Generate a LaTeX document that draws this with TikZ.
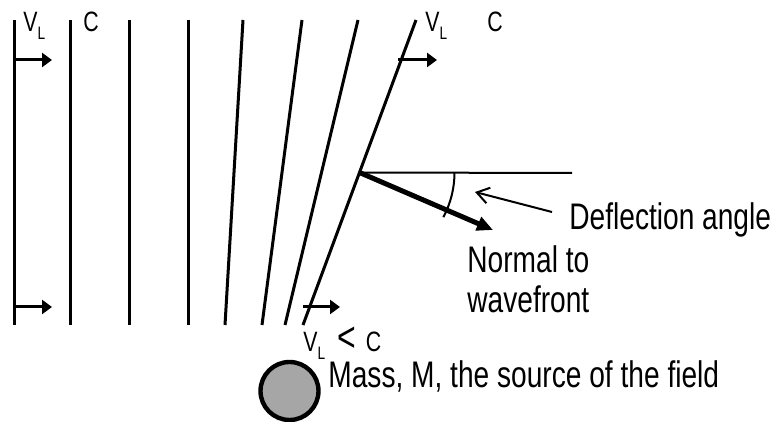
\documentclass[tikz,border=0pt]{standalone}
\usepackage{fontspec}
\setmainfont[FakeStretch=0.76]{Liberation Sans}
\usetikzlibrary{arrows.meta}
\usetikzlibrary{calc}
\usetikzlibrary{positioning}

\newcommand{\velL}{V\raisebox{-4pt}{\fontsize{9}{9}\selectfont L}}

\begin{document}
\begin{tikzpicture}[x=0.5pt, y=0.5pt,
    front/.style={line width=1.5pt},
    vel/.style={line width=1.5pt, -{Triangle[length=5pt, width=7pt]}},
    smalllabel/.style={inner sep=0pt, font=\fontsize{14}{16}\selectfont},
    bigtext/.style={inner sep=0pt, font=\fontsize{18.5}{20}\selectfont}]
    \useasboundingbox (0,0) rectangle (777,422);

    % Wavefronts, straight far from the mass and bent near it
    \foreach \i/\xt/\xb in {1/14/14, 2/70/70, 3/129/129, 4/188/188, 5/243/225, 6/302/262, 7/358/285, 8/416/303} {
        \coordinate (top\i) at (\xt,402);
        \coordinate (bot\i) at (\xb,97);
        \draw[front] (top\i) -- (bot\i);
    }

    % Velocity arrows
    \coordinate (vtl) at (14,362);
    \coordinate (vbl) at (14,115);
    \coordinate (vtr) at (398,362);
    \coordinate (vbr) at (303,115);
    \draw[vel] (vtl) -- ++(38,0);
    \draw[vel] (vbl) -- ++(38,0);
    \draw[vel] (vtr) -- ++(39,0);
    \draw[vel] (vbr) -- ++(37,0);

    % Speed labels
    \node[smalllabel, anchor=base west] (vlleft) at (23,390) {\velL};
    \node[smalllabel, anchor=base west] (cleft) at (83,390) {C};
    \node[smalllabel, anchor=base west] (vlright) at (425,390) {\velL};
    \node[smalllabel, anchor=base west] (cright) at (487,390) {C};
    \node[smalllabel, anchor=base west] (slower) at (303,70) {\velL\hspace{6pt}{\fontsize{21}{21}\selectfont <}\hspace{5pt}C};

    % Bending of the wavefront normal
    \coordinate (P) at ($(bot8)!0.5!(top8)$);
    \coordinate (horiz) at (572,249);
    \coordinate (ntip) at (493,192);
    \draw[line width=1pt] (P) -- (horiz);
    \draw[line width=2.5pt, -{Triangle[length=8pt, width=7pt]}] (P) -- (ntip);
    \draw[line width=1pt] ([shift={(0:95)}]P) arc[start angle=0, end angle=-28, radius=47.5pt];

    \node[bigtext, anchor=base west] (defl) at (569,192) {Deflection angle};
    \coordinate (angtip) at (475,230);
    \draw[line width=1pt, -{Straight Barb[length=6pt, width=8pt]}] ([xshift=-8.5pt, yshift=9pt]defl.base west) -- (angtip);
    \node[bigtext, anchor=north west, align=left] (normal) at (467,177) {Normal to\\wavefront};

    % The mass
    \node[draw, circle, fill=gray!70, line width=2.2pt, minimum size=29pt, inner sep=0pt] (mass) at (289.5,31) {};
    \node[bigtext, anchor=base west] (masstext) at (328,34) {Mass, M, the source of the field};
\end{tikzpicture}
\end{document}
